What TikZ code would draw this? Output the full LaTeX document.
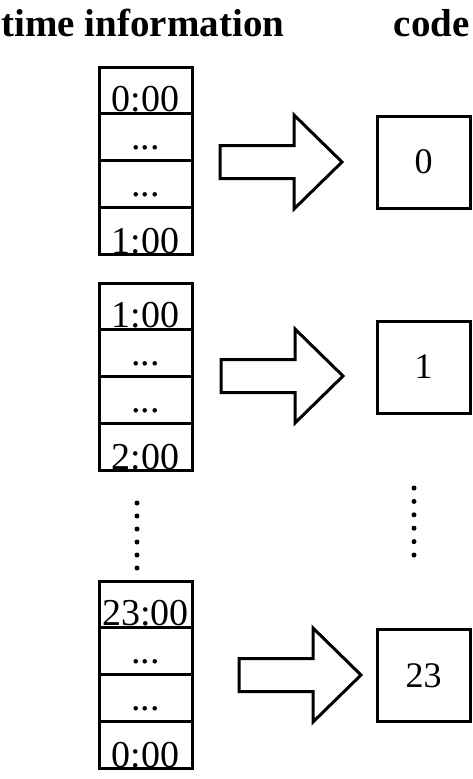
\documentclass[tikz,border=0pt]{standalone}
\usepackage{fontspec}
\setmainfont{Liberation Serif}
\begin{document}
\begin{tikzpicture}[x=1pt,y=-1pt,line width=3pt,
  cell/.style={draw,minimum width=93pt,minimum height=46.75pt,inner sep=0pt,outer sep=0pt,anchor=north},
  timelbl/.style={font=\fontsize{38}{38}\selectfont,inner sep=0pt,anchor=base},
  codebox/.style={draw,minimum width=93pt,minimum height=92pt,inner sep=0pt,outer sep=0pt,font=\fontsize{36}{36}\selectfont},
  head/.style={font=\fontsize{39}{39}\selectfont\bfseries,inner sep=0pt},
  bigarrow/.pic={\draw[line join=miter] (0,-16.5) -- (74,-16.5) -- (74,-47) -- (122,0) -- (74,47) -- (74,16.5) -- (0,16.5) -- cycle;}]
\useasboundingbox (0,0) rectangle (472,779);
% headers
\node[head,anchor=base west] (h1) at (0,36) {time information};
\node[head,anchor=base east] (h2) at (471,36) {code};
% stack 1
\node[cell] (a1) at (145.5,67) {};
\node[cell] (a2) at (a1.south) {};
\node[cell] (a3) at (a2.south) {};
\node[cell] (a4) at (a3.south) {};
\node[timelbl] (la1) at ([yshift=2pt]a1.south) {0:00};
\node[timelbl] (la2) at ([yshift=11pt]a2.south) {...};
\node[timelbl] (la3) at ([yshift=11pt]a3.south) {...};
\node[timelbl] (la4) at ([yshift=1pt]a4.south) {1:00};
% stack 2
\node[cell] (b1) at (145.5,283) {};
\node[cell] (b2) at (b1.south) {};
\node[cell] (b3) at (b2.south) {};
\node[cell] (b4) at (b3.south) {};
\node[timelbl] (lb1) at ([yshift=2pt]b1.south) {1:00};
\node[timelbl] (lb2) at ([yshift=11pt]b2.south) {...};
\node[timelbl] (lb3) at ([yshift=11pt]b3.south) {...};
\node[timelbl] (lb4) at ([yshift=1pt]b4.south) {2:00};
% stack 3
\node[cell] (c1) at (145.5,581) {};
\node[cell] (c2) at (c1.south) {};
\node[cell] (c3) at (c2.south) {};
\node[cell] (c4) at (c3.south) {};
\node[timelbl] (lc1) at ([yshift=2pt]c1.south) {23:00};
\node[timelbl] (lc2) at ([yshift=11pt]c2.south) {...};
\node[timelbl] (lc3) at ([yshift=11pt]c3.south) {...};
\node[timelbl] (lc4) at ([yshift=1pt]c4.south) {0:00};
% code boxes
\node[codebox] (k0) at (423.5,162) {0};
\node[codebox] (k1) at (423.5,367) {1};
\node[codebox] (k23) at (423.5,675.5) {23};
% arrows
\coordinate (t0) at (220,162);
\coordinate (t1) at (221,376);
\coordinate (t23) at (239,675);
\pic at (t0) {bigarrow};
\pic at (t1) {bigarrow};
\pic at (t23) {bigarrow};
% vertical dots
\foreach \i in {0,...,5} {
  \fill (137,503+13*\i) circle (2.5pt);
  \fill (414,488+13.4*\i) circle (2.5pt);
}
\end{tikzpicture}
\end{document}
